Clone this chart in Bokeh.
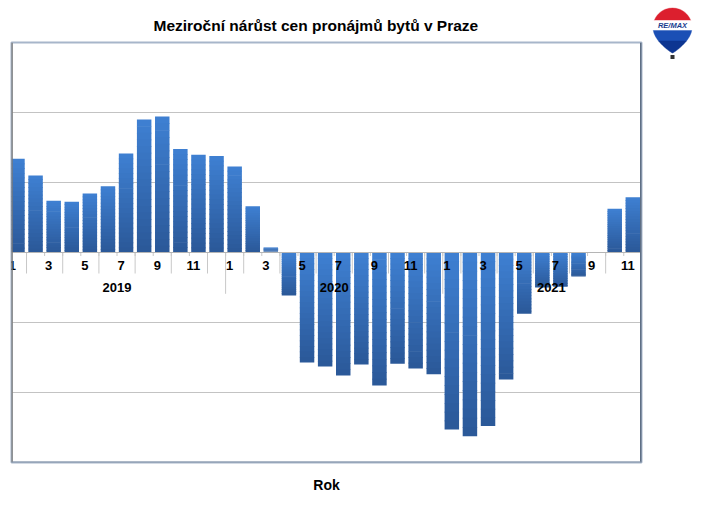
import numpy as np
from bokeh.plotting import figure
from bokeh.models import Range1d, FixedTicker, Span, Div
from bokeh.layouts import row
from bokeh.core.properties import value
from bokeh.embed import file_html
from bokeh.resources import INLINE

# ---------------- data ----------------
years = ["2019"] * 12 + ["2020"] * 12 + ["2021"] * 11
months = list(range(1, 13)) + list(range(1, 13)) + list(range(1, 12))
growth = [6.69, 5.50, 3.69, 3.62, 4.21, 4.74, 7.07, 9.50, 9.71, 7.40, 6.98, 6.90,
          6.14, 3.31, 0.38, -3.07, -7.86, -8.14, -8.79, -8.00, -9.50, -7.95, -8.29, -8.69,
          -12.64, -13.12, -12.40, -9.07, -4.38, -2.50, -2.45, -1.71, 0.00, 3.12, 3.95]
year_labels = ["2019", "2020", "2021"]
grid_values = [-10, -5, 0, 5, 10]
title_text = "Meziroční nárůst cen pronájmů bytů v Praze"
x_title = "Rok"

FONT = "Liberation Sans"
n = len(growth)
idx = np.arange(n)
x_start, x_end = -0.33, n - 1 + 0.48
y_min, y_max = -15, 15

p = figure(width=645, height=512, x_range=Range1d(x_start, x_end),
           y_range=Range1d(y_min, y_max), output_backend="svg",
           toolbar_location=None, min_border_left=11, min_border_right=4,
           min_border_top=42, min_border_bottom=50)

p.title.text = title_text
p.title.text_font = FONT
p.title.text_font_style = "bold"
p.title.text_font_size = "15.5px"
p.title.align = "left"
p.title.offset = 142
p.title.standoff = 17
p.title.text_color = "#000000"

p.xgrid.visible = False
p.ygrid.ticker = FixedTicker(ticks=grid_values)
p.ygrid.grid_line_color = "#c3c3c3"
p.yaxis.visible = False

p.xaxis.ticker = FixedTicker(ticks=[])
p.xaxis.axis_line_color = None
p.xaxis.major_tick_line_color = None
p.xaxis.minor_tick_line_color = None
p.xaxis.major_label_text_font_size = "0px"
p.xaxis.axis_label = x_title
p.xaxis.axis_label_text_font = FONT
p.xaxis.axis_label_text_font_style = "bold"
p.xaxis.axis_label_text_font_size = "14px"
p.xaxis.axis_label_text_color = "#000000"
p.xaxis.axis_label_standoff = 14

p.outline_line_color = "#a7b6ca"
p.outline_line_width = 2

# category tick marks on the zero line
bounds = idx[:-1] + 0.5
p.segment(x0=bounds, y0=0, x1=bounds, y1=-0.25, line_color="#c8c8c8", line_width=1)
major_b = bounds[::2]
p.segment(x0=major_b, y0=0, x1=major_b, y1=-1.5, line_color="#c8c8c8", line_width=1)
year_starts = [years.index(y) for y in year_labels]
sep = [s - 0.5 for s in year_starts[1:]]
p.segment(x0=sep, y0=0, x1=sep, y1=-2.95, line_color="#c8c8c8", line_width=1)

p.add_layout(Span(location=0, dimension="width", line_color="#b5b5b5", line_width=1))

# gradient bars (top light -> bottom dark)
c_top = np.array([0x3f, 0x80, 0xd2])
c_bot = np.array([0x2a, 0x58, 0x98])
N = 20
g = np.array(growth)
tops = np.maximum(g, 0)
bots = np.minimum(g, 0)
xs, st, sb, cols = [], [], [], []
for i in range(n):
    h = tops[i] - bots[i]
    if h <= 0:
        continue
    for k in range(N):
        t0 = tops[i] - h * k / N
        t1 = tops[i] - h * (k + 1) / N
        if k < N - 1:
            t1 -= min(0.05, h / N * 0.5)
        c = c_top + (c_bot - c_top) * (k + 0.5) / N
        xs.append(i)
        st.append(t0)
        sb.append(t1)
        cols.append("#%02x%02x%02x" % tuple(int(round(v)) for v in c))
p.vbar(x=xs, top=st, bottom=sb, width=0.8, fill_color=cols, line_color=None)

# month labels and year labels
lab_idx = idx[::2]
p.text(x=lab_idx, y=[0] * len(lab_idx), text=[str(months[i]) for i in lab_idx],
       x_offset=-5, y_offset=13, text_align="center", text_baseline="middle",
       text_font=value(FONT), text_font_style="bold", text_font_size="13px",
       text_color="#000000")
year_centers = [s + 5.5 for s in year_starts]
p.text(x=year_centers, y=[0] * len(year_centers), text=year_labels,
       y_offset=35, text_align="center", text_baseline="middle",
       text_font=value(FONT), text_font_style="bold", text_font_size="13px",
       text_color="#000000")

# frame accents
p.add_layout(Span(location=x_start, dimension="height", line_color="#7a7a7a", line_width=2.5))
p.add_layout(Span(location=x_end, dimension="height", line_color="#5f6f84", line_width=3))
p.add_layout(Span(location=y_min, dimension="width", line_color="#8796aa", line_width=2))

# ---------------- logo (inline SVG) ----------------
cx, r, c, tip, top_y = 27.5, 19.5, 27.5, 53.0, 8.0


def hw(y):
    y = np.asarray(y, dtype=float)
    up = np.sqrt(np.clip(r ** 2 - (y - c) ** 2, 0, None))
    t = np.clip((y - c) / (tip - c), 0, 1)
    down = r * np.cos(t * np.pi / 2) ** 0.85
    return np.where(y <= c, up, down)


def band(y0, y1, color):
    ys = np.linspace(y0, y1, 40)
    w = hw(ys)
    bx = np.concatenate([cx - w, (cx + w)[::-1]])
    by = np.concatenate([ys, ys[::-1]])
    pts = " ".join("%.2f,%.2f" % (a, b) for a, b in zip(bx, by))
    return '<polygon points="%s" fill="%s" stroke="%s" stroke-width="0.4"/>' % (pts, color, color)


svg = ('<svg xmlns="http://www.w3.org/2000/svg" width="70" height="66" viewBox="0 0 70 66">'
       + band(top_y, 20.5, "#dc1f2e")
       + band(20.5, 30.5, "#ffffff")
       + band(30.5, 41.0, "#1b4fb5")
       + band(41.0, tip, "#0d3591")
       + '<rect x="%.1f" y="55" width="4" height="4" fill="#333333"/>' % (cx - 2)
       + '<text x="%.1f" y="28.3" text-anchor="middle" font-family="Liberation Sans" '
         'font-weight="bold" font-style="italic" font-size="7.5px" fill="#1a3d8f">RE/MAX</text>' % cx
       + '</svg>')
logo = Div(text=svg, width=70, height=66, styles={"margin": "0", "padding": "0", "line-height": "0"})

layout = row(p, logo)
open("out.html", "w").write(file_html(layout, INLINE))
